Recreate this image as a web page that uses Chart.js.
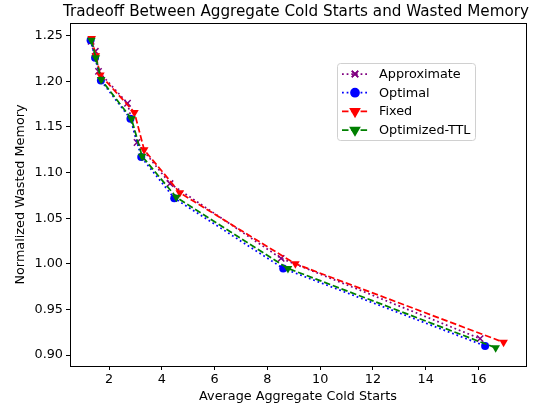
<!DOCTYPE html>
<html>
<head>
<meta charset="utf-8">
<script src="https://cdn.jsdelivr.net/npm/chart.js@4.4.0/dist/chart.umd.min.js"></script>
<style>
html,body{margin:0;padding:0;background:#fff;}
#wrap{width:540px;height:410px;position:relative;}
</style>
</head>
<body>
<div id="wrap"><canvas id="c" width="540" height="410"></canvas></div>
<script>
const chartTitle = "Tradeoff Between Aggregate Cold Starts and Wasted Memory";
const xLabel = "Average Aggregate Cold Starts";
const yLabel = "Normalized Wasted Memory";
const xTicks = [2, 4, 6, 8, 10, 12, 14, 16];
const yTicks = [0.90, 0.95, 1.00, 1.05, 1.10, 1.15, 1.20, 1.25];

const approxX = [1.32, 1.48, 1.60, 2.70, 3.06, 4.31, 8.52, 16.06];
const approxY = [1.244, 1.233, 1.211, 1.176, 1.133, 1.088, 1.006, 0.918];
const optimalX = [1.30, 1.47, 1.69, 2.81, 3.22, 4.47, 8.60, 16.25];
const optimalY = [1.245, 1.226, 1.201, 1.159, 1.117, 1.072, 0.995, 0.910];
const fixedX = [1.34, 1.50, 1.67, 2.96, 3.33, 4.68, 9.06, 16.95];
const fixedY = [1.247, 1.228, 1.207, 1.166, 1.125, 1.078, 1.000, 0.914];
const ttlX = [1.33, 1.50, 1.70, 2.85, 3.25, 4.55, 8.78, 16.65];
const ttlY = [1.245, 1.226, 1.202, 1.159, 1.118, 1.073, 0.995, 0.908];

const seriesNames = ["Approximate", "Optimal", "Fixed", "Optimized-TTL"];

function pts(xs, ys){ return xs.map((x,i)=>({x:x, y:ys[i]})); }

const FONT = "'DejaVu Sans', sans-serif";
const FS = 12.8;
const DOT = [1.75, 2.9];
const DASH = [6.5, 2.8];

const datasets = [
  {label: seriesNames[0], data: pts(approxX, approxY), borderColor:'#800080', backgroundColor:'#800080',
   borderDash: DOT, pointStyle:'crossRot', pointRadius:4.5, pointBorderWidth:1.5, order:3},
  {label: seriesNames[1], data: pts(optimalX, optimalY), borderColor:'#0000ff', backgroundColor:'#0000ff',
   borderDash: DOT, pointStyle:'circle', pointRadius:4, pointBorderWidth:0, order:2},
  {label: seriesNames[2], data: pts(fixedX, fixedY), borderColor:'#ff0000', backgroundColor:'#ff0000',
   borderDash: DASH, pointStyle:'triangle', pointRotation:180, pointRadius:5, pointBorderWidth:0, order:1},
  {label: seriesNames[3], data: pts(ttlX, ttlY), borderColor:'#008000', backgroundColor:'#008000',
   borderDash: DASH, pointStyle:'triangle', pointRotation:180, pointRadius:5, pointBorderWidth:0, order:0},
];
datasets.forEach(d=>{ d.borderWidth = 1.75; d.showLine = true; d.fill = false; d.tension = 0; d.pointHoverRadius = d.pointRadius; });

const framePlugin = {
  id:'frame',
  afterDraw(chart){
    const {ctx, chartArea:a} = chart;
    ctx.save();
    ctx.strokeStyle = '#000'; ctx.lineWidth = 1;
    ctx.strokeRect(Math.round(a.left)+0.5, Math.round(a.top)+0.5, Math.round(a.right-a.left), Math.round(a.bottom-a.top));
    // title
    ctx.fillStyle = '#000';
    ctx.font = "15.2px " + FONT;
    ctx.textAlign = 'center'; ctx.textBaseline = 'middle';
    ctx.fillText(chartTitle, (a.left+a.right)/2 - 2, 12);
    // legend
    const lx = 337, ly = 63, lw = 138, lh = 77;
    ctx.fillStyle = 'rgba(255,255,255,0.8)';
    ctx.strokeStyle = '#d0d0d0';
    ctx.beginPath();
    if (ctx.roundRect) ctx.roundRect(lx+0.5, ly+0.5, lw, lh, 3); else ctx.rect(lx+0.5, ly+0.5, lw, lh);
    ctx.fill(); ctx.stroke();
    ctx.font = FS + "px " + FONT;
    ctx.textAlign = 'left';
    chart.data.datasets.forEach((d, i)=>{
      const y = 74 + i*18.7;
      ctx.strokeStyle = d.borderColor; ctx.lineWidth = d.borderWidth;
      ctx.setLineDash(d.borderDash);
      ctx.beginPath(); ctx.moveTo(342, y); ctx.lineTo(368, y); ctx.stroke();
      ctx.setLineDash([]);
      Chart.helpers.drawPoint(ctx, {pointStyle:d.pointStyle, rotation:d.pointRotation||0, radius:d.pointRadius, borderWidth:d.pointBorderWidth||1.5}, 355, y);
      ctx.fillStyle = d.backgroundColor; ctx.strokeStyle = d.borderColor;
      if (d.pointStyle !== 'crossRot') ctx.fill(); else { ctx.lineWidth = d.pointBorderWidth; ctx.stroke(); }
      ctx.fillStyle = '#000';
      ctx.fillText(d.label, 379, y + 0.5);
    });
    ctx.restore();
  }
};

new Chart(document.getElementById('c'), {
  type:'scatter',
  data:{datasets},
  options:{
    responsive:false, animation:false, devicePixelRatio:1,
    layout:{padding:{top:23, right:14, left:13, bottom:6}},
    plugins:{legend:{display:false}, title:{display:false}, tooltip:{enabled:false}},
    scales:{
      x:{type:'linear', min:0.52, max:17.8,
        afterBuildTicks(s){ s.ticks = xTicks.map(v=>({value:v})); },
        afterFit(s){ s.height = 38; },
        grid:{drawOnChartArea:false, drawTicks:true, tickLength:4, color:'#000', tickWidth:1},
        border:{display:false},
        ticks:{color:'#000', font:{family:FONT, size:FS}, padding:2, maxRotation:0, callback:v=>String(v)},
        title:{display:true, text:xLabel, color:'#000', font:{family:FONT, size:FS}, padding:{top:2, bottom:0}}
      },
      y:{type:'linear', min:0.888, max:1.264,
        afterBuildTicks(s){ s.ticks = yTicks.map(v=>({value:v})); },
        afterFit(s){ s.width = 57; },
        grid:{drawOnChartArea:false, drawTicks:true, tickLength:4, color:'#000', tickWidth:1},
        border:{display:false},
        ticks:{color:'#000', font:{family:FONT, size:FS}, padding:3, callback:v=>Number(v).toFixed(2)},
        title:{display:true, text:yLabel, color:'#000', font:{family:FONT, size:FS}, padding:{top:0, bottom:4}}
      }
    }
  },
  plugins:[framePlugin]
});
</script>
</body>
</html>
